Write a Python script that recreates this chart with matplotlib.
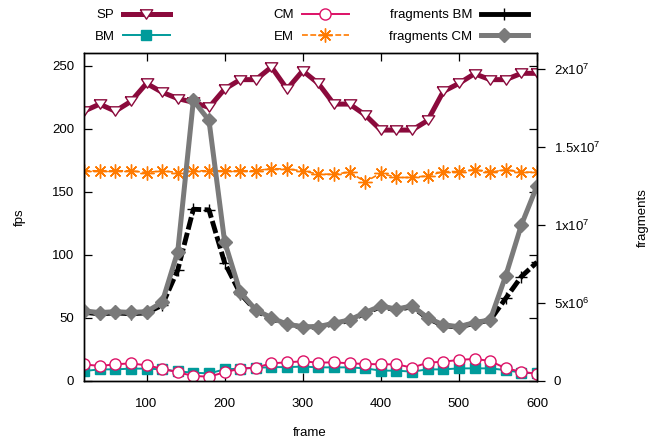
import matplotlib
matplotlib.use("Agg")
import matplotlib.pyplot as plt
from matplotlib.lines import Line2D
from matplotlib.ticker import FixedLocator, FixedFormatter

plt.rcParams["font.family"] = ["Liberation Sans", "DejaVu Sans"]
plt.rcParams["font.size"] = 9.5
plt.rcParams["mathtext.fontset"] = "custom"
plt.rcParams["mathtext.rm"] = "Liberation Sans"
plt.rcParams["mathtext.it"] = "Liberation Sans:italic"

# ── data ─────────────────────────────────────────────────────────────────────
frame = [20, 40, 60, 80, 100, 120, 140, 160, 180, 200,
         220, 240, 260, 280, 300, 320, 340, 360, 380, 400,
         420, 440, 460, 480, 500, 520, 540, 560, 580, 600]

sp = [214, 219.6, 214, 221.7, 236, 229, 224, 221, 217, 231.5,
      239, 239, 249, 231.5, 246, 236, 219.6, 219.6, 211, 199,
      199, 199, 206.6, 229.6, 236, 243.7, 239, 239, 244, 244]

bm = [7.9, 9.2, 9.2, 9.8, 9.8, 9.2, 7.6, 6.6, 6.0, 9.2,
      9.8, 10.4, 11.0, 11.0, 11.4, 10.8, 10.8, 10.8, 10.0, 8.2,
      8.2, 7.4, 9.2, 9.2, 10.0, 10.0, 10.0, 8.6, 6.6, 6.0]

cm = [13.2, 11.9, 13.2, 14.0, 12.4, 9.8, 6.9, 4.0, 3.4, 6.9,
      9.8, 10.6, 14.0, 14.8, 15.6, 14.5, 14.8, 14.0, 13.5, 13.2,
      13.2, 10.6, 14.5, 15.3, 16.7, 17.5, 15.9, 10.0, 7.4, 5.6]

em = [166.7, 166.7, 166.7, 166.7, 165.3, 166.7, 165.3, 166.7, 166.7, 166.7,
      166.7, 166.7, 168.5, 168.0, 166.7, 164.0, 164.0, 165.6, 158.0, 164.8,
      161.4, 161.4, 162.7, 166.1, 166.1, 167.5, 165.6, 167.5, 165.6, 165.6]

frag_bm = [4.40e6, 4.30e6, 4.36e6, 4.31e6, 4.36e6, 4.85e6, 7.11e6, 1.100e7, 1.096e7, 7.58e6,
           5.60e6, 4.50e6, 4.00e6, 3.60e6, 3.45e6, 3.45e6, 3.66e6, 3.87e6, 4.34e6, 4.76e6,
           4.56e6, 4.76e6, 4.01e6, 3.55e6, 3.45e6, 3.70e6, 3.90e6, 5.30e6, 6.69e6, 7.61e6]

frag_cm = [4.49e6, 4.38e6, 4.44e6, 4.39e6, 4.44e6, 5.04e6, 8.29e6, 1.797e7, 1.669e7, 8.93e6,
           5.69e6, 4.55e6, 4.05e6, 3.63e6, 3.48e6, 3.48e6, 3.70e6, 3.91e6, 4.38e6, 4.81e6,
           4.60e6, 4.81e6, 4.05e6, 3.59e6, 3.48e6, 3.74e6, 3.91e6, 6.75e6, 1.00e7, 1.25e7]

fps_ticks = [0, 50, 100, 150, 200, 250]
frame_ticks = [100, 200, 300, 400, 500, 600]
frag_ticks = [0, 5e6, 1e7, 1.5e7, 2e7]
frag_labels = ["0", r"5x10$^{6}$", r"1x10$^{7}$", r"1.5x10$^{7}$", r"2x10$^{7}$"]

C_SP = "#8b0a3c"
C_BM = "#009b9b"
C_CM = "#dd1166"
C_EM = "#ff7a00"
C_FBM = "black"
C_FCM = "#7a7a7a"

tri = [(-1, 0.75), (1, 0.75), (0, -0.75), (-1, 0.75)]
star = (8, 2, 0)

fig = plt.figure(figsize=(6.59, 4.43), dpi=100)
ax = fig.add_axes([0.1275, 0.140, 0.6874, 0.740])
ax2 = ax.twinx()

h_sp, = ax.plot(frame, sp, color=C_SP, lw=3.6, marker=tri, ms=9,
                mfc="white", mec=C_SP, mew=1.0, label="SP")
h_bm, = ax.plot(frame, bm, color=C_BM, lw=1.4, marker="s", ms=6.5,
                mfc=C_BM, mec=C_BM, label="BM")
h_cm, = ax.plot(frame, cm, color=C_CM, lw=1.4, marker="o", ms=8,
                mfc="white", mec=C_CM, mew=1.0, label="CM")
h_em, = ax.plot(frame, em, color=C_EM, lw=1.2, ls=(0, (3.5, 1.5)), marker=star,
                ms=10, mec=C_EM, mew=1.0, label="EM")
h_fbm, = ax2.plot(frame, frag_bm, color=C_FBM, lw=3.5, ls=(0, (2.6, 0.7)),
                  marker="+", ms=9, mec="black", mew=1.0, label="fragments BM")
h_fcm, = ax2.plot(frame, frag_cm, color=C_FCM, lw=3.6, marker="D", ms=7,
                  mfc=C_FCM, mec=C_FCM, label="fragments CM")

ax.set_xlim(20, 600)
ax.set_ylim(0, 260)
ax2.set_ylim(0, 2.1e7)

ax.xaxis.set_major_locator(FixedLocator(frame_ticks))
ax.yaxis.set_major_locator(FixedLocator(fps_ticks))
ax2.yaxis.set_major_locator(FixedLocator(frag_ticks))
ax2.yaxis.set_major_formatter(FixedFormatter(frag_labels))

ax.tick_params(axis="both", direction="in", length=6, width=0.9,
               top=True, right=True, labelsize=9.5)
ax.tick_params(axis="y", pad=7)
ax.tick_params(axis="x", pad=12)
ax2.tick_params(axis="y", direction="out", length=6, width=0.9, pad=6, labelsize=9.5)

for a in (ax, ax2):
    for s in a.spines.values():
        s.set_linewidth(1.0)

ax.set_xlabel("frame")
ax.set_ylabel("fps")
ax2.set_ylabel("fragments")
ax.xaxis.label.set_va("center")
ax.xaxis.set_label_coords(0.499, -0.159)
ax.yaxis.label.set_va("center")
ax.yaxis.set_label_coords(-0.142, 0.5)
ax2.yaxis.label.set_va("center")
ax2.yaxis.set_label_coords(1.234, 0.5)

# key sample for fragments BM is drawn solid, as in the reference
key_fbm = Line2D([], [], color=C_FBM, lw=3.5, marker="+", ms=9, mec="black", mew=1.0)

# gnuplot-style key: three columns, text before sample
leg_kw = dict(frameon=False, markerfirst=False, ncol=1, numpoints=1,
              handlelength=3.6, handletextpad=0.6, labelspacing=0.7,
              borderpad=0, borderaxespad=0, loc="upper right")
for hs, labs, xr in [((h_sp, h_bm), ("SP", "BM"), 170),
                     ((h_cm, h_em), ("CM", "EM"), 349),
                     ((key_fbm, h_fcm), ("fragments BM", "fragments CM"), 528)]:
    fig.legend(hs, labs, bbox_to_anchor=(xr / 659, 1 - 9 / 443), **leg_kw)

fig.savefig("out.png", dpi=100)
